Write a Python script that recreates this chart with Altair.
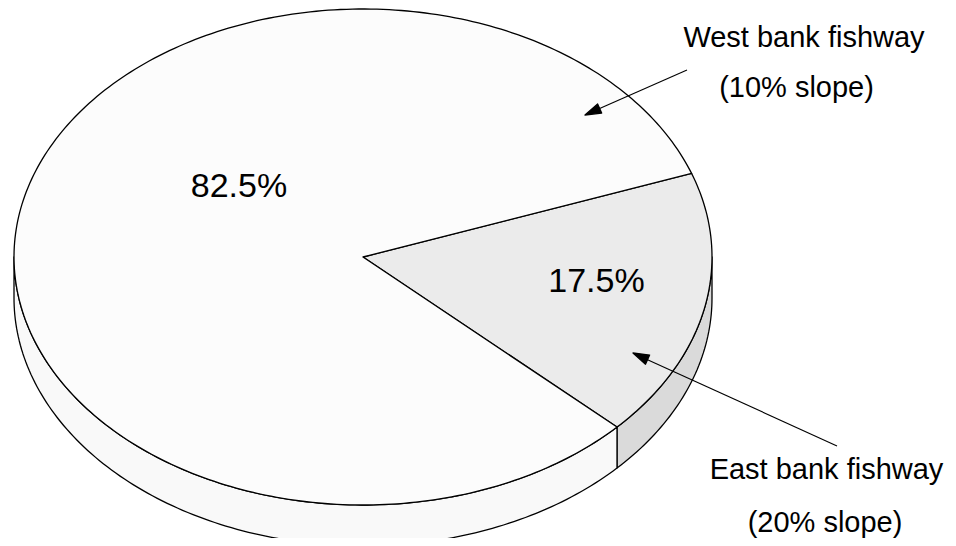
import math
import altair as alt
import pandas as pd

# ---- data ----
categories = ["East bank fishway", "West bank fishway"]
slope_notes = ["(20% slope)", "(10% slope)"]
shares = [17.5, 82.5]
pct_labels = ["17.5%", "82.5%"]

# ---- layout / style (chart pixel space) ----
W, H = 940, 530
CX, CY = 355.0, 249.0
RX, RY = 349.0, 248.0
DEPTH = 41.0
START_DEG = -19.7
TOP_FILLS = ["#ebebeb", "#fcfcfc"]
SIDE_FILLS = ["#dadada", "#f9f9f9"]
PCT_POS = [(588.5, 284.0), (231.0, 189.0)]
NAME_POS = [(818.5, 471.0), (796.0, 39.0)]
NOTE_POS = [(817.0, 524.0), (788.5, 89.0)]
ARROWS = [((829.0, 438.0), (625.0, 345.0)), ((679.0, 62.0), (577.0, 107.0))]
FONT = "Liberation Sans, Arial, Helvetica, sans-serif"


def ept(t_deg, dy=0.0):
    t = math.radians(t_deg)
    return [CX + RX * math.cos(t), CY + RY * math.sin(t) + dy]


def arc_pts(a0, a1, dy=0.0, step=1.0):
    n = max(2, int(math.ceil(abs(a1 - a0) / step)) + 1)
    return [ept(a0 + (a1 - a0) * i / (n - 1), dy) for i in range(n)]


def feat(geom_type, coords, fill, kind):
    return {"type": "Feature",
            "geometry": {"type": geom_type, "coordinates": coords},
            "properties": {"fill": fill, "kind": kind}}


side_feats, top_feats = [], []
a = START_DEG
for i, s in enumerate(shares):
    a0, a1 = a, a + 360.0 * s / 100.0
    a = a1
    # top wedge
    ring = [[CX, CY]] + arc_pts(a0, a1) + [[CX, CY]]
    top_feats.append(feat("Polygon", [ring], TOP_FILLS[i], "top"))
    # visible side wall (front half: 0..180 deg in screen param)
    for k in (-1, 0, 1):
        lo, hi = max(a0, 0 + 360 * k), min(a1, 180 + 360 * k)
        if hi > lo:
            upper = arc_pts(lo, hi)
            lower = arc_pts(hi, lo, dy=DEPTH)
            ring = upper + lower + [upper[0]]
            side_feats.append(feat("Polygon", [ring], SIDE_FILLS[i], "side"))

line_feats, head_feats = [], []
for (tail, tip) in ARROWS:
    dx, dy = tail[0] - tip[0], tail[1] - tip[1]
    L = math.hypot(dx, dy)
    ux, uy = dx / L, dy / L
    nx, ny = -uy, ux
    hl, hw = 16.0, 5.0
    bx, by = tip[0] + ux * hl, tip[1] + uy * hl
    line_feats.append(feat("LineString", [list(tail), [bx, by]], "none", "arrow"))
    tri = [list(tip), [bx + nx * hw, by + ny * hw], [bx - nx * hw, by - ny * hw], list(tip)]
    head_feats.append(feat("Polygon", [tri], "#000000", "head"))

proj = alt.Projection(type="identity", scale=1, translate=[0, 0])

shapes = alt.Chart(alt.Data(values=side_feats + top_feats + head_feats)).mark_geoshape(
    stroke="black", strokeWidth=1.3, strokeJoin="round"
).encode(
    fill=alt.Color("properties.fill:N", scale=None)
).project(**proj.to_dict())

lines = alt.Chart(alt.Data(values=line_feats)).mark_geoshape(
    filled=False, stroke="black", strokeWidth=1.1
).project(**proj.to_dict())

rows = []
for i, c in enumerate(categories):
    rows.append({"x": PCT_POS[i][0], "y": PCT_POS[i][1], "txt": pct_labels[i], "size": 34})
    rows.append({"x": NAME_POS[i][0], "y": NAME_POS[i][1], "txt": c, "size": 29})
    rows.append({"x": NOTE_POS[i][0], "y": NOTE_POS[i][1], "txt": slope_notes[i], "size": 29})
tdf = pd.DataFrame(rows)

texts = alt.Chart(tdf).mark_text(
    align="center", baseline="alphabetic", font=FONT, color="black"
).encode(
    longitude="x:Q", latitude="y:Q", text="txt:N",
    size=alt.Size("size:Q", scale=None, legend=None)
).project(**proj.to_dict())

chart = alt.layer(shapes, lines, texts).properties(
    width=W, height=H, padding=0, background="white",
    autosize=alt.AutoSizeParams(type="none")
).configure_view(stroke=None)

chart.save("out.html", embed_options={"renderer": "svg", "actions": False})
